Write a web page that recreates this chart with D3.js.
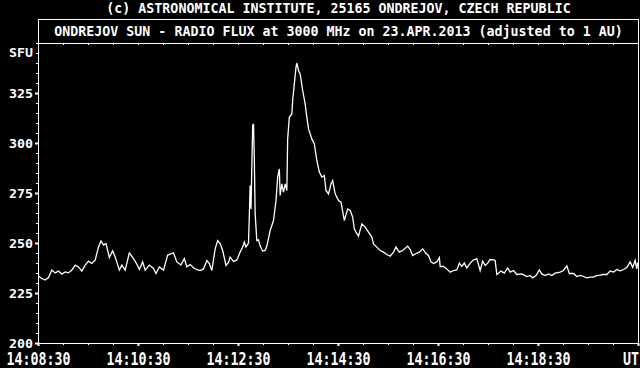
<!DOCTYPE html>
<html>
<head>
<meta charset="utf-8">
<script src="https://cdn.jsdelivr.net/npm/d3@7"></script>
<style>
  html, body { margin: 0; padding: 0; background: #000; }
  svg { display: block; }
  text { font-family: "DejaVu Sans Mono", monospace; font-weight: bold; fill: #fff; }
</style>
</head>
<body>
<svg id="chart" width="640" height="368"></svg>
<script>
// chart texts
const headLine = "(c) ASTRONOMICAL INSTITUTE, 25165 ONDREJOV, CZECH REPUBLIC";
const titleLine = "ONDREJOV SUN - RADIO FLUX at 3000 MHz on 23.APR.2013 (adjusted to 1 AU)";
const yUnit = "SFU";
const xUnit = "UT";

// time axis: 14:08:30 .. 14:20:30 UT
const startTime = "14:08:30";
const endTime = "14:20:30";
const xMinorStep = 30;   // seconds
const xMajorStep = 120;  // seconds

// y ticks (SFU)
const yMajorTicks = [200, 225, 250, 275, 300, 325];
const yMinorStep = 5;
const yMax = 350;

// seconds after 14:08:30
const secs = [
  0, 4, 8, 12, 16, 20, 24, 28, 32, 36, 40, 44, 48, 52, 56, 60, 64, 68, 72, 75,
  78, 81, 85, 89, 92, 97, 100, 104, 109, 114, 118, 121, 125, 128, 133, 138, 141, 145, 150, 155,
  160, 162, 166, 171, 175, 178, 182, 187, 192, 194, 198, 202, 205, 208, 212, 215, 218, 221, 225, 228,
  230, 234, 238, 242, 245, 247, 249, 252, 253, 254, 255, 256, 257, 258, 259, 260, 262, 264, 266, 269,
  272, 274, 278, 282, 285, 287, 289, 290, 292, 294, 296, 298, 299, 301, 304, 305, 307, 309, 310, 312,
  314, 317, 320, 322, 324, 328, 331, 334, 337, 340, 343, 345, 348, 351, 353, 356, 360, 363, 367, 371,
  374, 377, 379, 381, 384, 388, 392, 396, 400, 402, 406, 410, 414, 418, 422, 426, 429, 433, 437, 443,
  446, 449, 453, 457, 461, 465, 468, 471, 474, 478, 481, 482, 486, 490, 494, 498, 502, 505, 508, 511,
  514, 518, 522, 526, 530, 533, 536, 539, 542, 546, 548, 550, 555, 559, 563, 566, 570, 574, 580, 586,
  590, 593, 597, 601, 604, 608, 612, 616, 620, 626, 630, 634, 637, 642, 646, 650, 654, 658, 662, 666,
  670, 674, 678, 682, 686, 690, 694, 698, 702, 706, 710, 713, 716, 718, 719
];

// radio flux, SFU
const flux = [
  233.7, 232.5, 231.7, 233.0, 236.7, 235.3, 236.2, 234.7, 235.8, 235.3, 236.7, 239.2, 238.3, 236.2, 239.2, 241.2, 240.0, 241.7, 248.3, 251.3,
  249.2, 250.0, 243.0, 246.3, 243.3, 236.7, 239.2, 236.7, 245.3, 242.5, 239.7, 237.0, 240.8, 236.7, 239.2, 237.5, 235.0, 238.3, 236.7, 244.2,
  245.0, 245.3, 240.8, 239.2, 242.5, 238.3, 239.5, 237.5, 236.7, 236.5, 237.3, 241.5, 240.0, 236.5, 247.3, 251.5, 250.0, 246.5, 239.0, 240.5,
  243.2, 241.0, 241.8, 245.7, 248.2, 250.7, 248.2, 250.2, 264.0, 279.0, 267.3, 288.2, 309.0, 309.8, 291.5, 264.8, 251.5, 251.8, 248.7, 246.2,
  246.5, 248.7, 256.5, 261.5, 271.5, 283.2, 287.3, 274.0, 279.8, 275.7, 279.8, 276.5, 302.3, 313.2, 314.8, 321.5, 329.8, 338.2, 340.2, 336.5,
  334.8, 326.5, 319.8, 313.2, 307.3, 302.3, 299.8, 291.5, 285.7, 283.2, 284.0, 276.5, 274.8, 279.8, 281.5, 274.8, 271.5, 270.7, 261.5, 267.3,
  266.5, 263.2, 257.3, 255.7, 253.7, 259.8, 258.2, 255.7, 253.2, 249.8, 248.2, 246.5, 245.7, 244.5, 243.7, 245.7, 248.2, 245.7, 246.5, 248.7,
  247.0, 244.0, 245.0, 245.7, 247.3, 245.0, 244.0, 240.8, 240.0, 240.8, 243.0, 238.5, 238.5, 237.3, 235.7, 236.5, 236.8, 240.2, 238.5, 240.2,
  237.8, 240.2, 241.8, 242.3, 236.5, 241.2, 239.0, 240.2, 242.0, 241.8, 241.5, 234.5, 236.2, 235.2, 237.8, 235.7, 236.5, 234.5, 234.8, 233.5,
  234.0, 232.8, 234.0, 236.8, 234.8, 234.0, 234.8, 234.0, 235.2, 235.7, 236.5, 238.8, 235.0, 235.0, 233.5, 234.0, 233.5, 232.8, 233.2, 233.2,
  234.0, 234.2, 234.5, 234.5, 236.2, 235.7, 237.0, 236.3, 237.0, 238.0, 240.8, 238.0, 241.5, 237.3, 240.5
];

const svg = d3.select("#chart");

const parseT = d3.utcParse("%H:%M:%S");
const fmtT = d3.utcFormat("%H:%M:%S");
const t0 = parseT(startTime);
const t1 = parseT(endTime);
const span = (t1 - t0) / 1000;

const data = secs.map((s, i) => ({ t: d3.utcSecond.offset(t0, s), v: flux[i] }));

let plotL = 38, plotR = 638, plotT = 43, plotB = 343;

const x = d3.scaleUtc().domain([t0, t1]).range([plotL, plotR]);
const y = d3.scaleLinear().domain([yMajorTicks[0], yMax]).range([plotB, plotT]);

// header texts
svg.append("text")
  .attr("x", 338.5).attr("y", 13)
  .attr("text-anchor", "middle")
  .style("font-size", "13.3px")
  .text(headLine);

svg.append("rect")
  .attr("x", plotL + 0.5).attr("y", 19.5)
  .attr("width", plotR - plotL).attr("height", plotT - 19)
  .attr("fill", "none").attr("stroke", "#fff").attr("stroke-width", 1);

svg.append("text")
  .attr("x", 338.5).attr("y", 36)
  .attr("text-anchor", "middle")
  .style("font-size", "13.3px")
  .text(titleLine);

// y axis: minor then major ticks
const yMinor = d3.range(yMajorTicks[0], yMax + 1, yMinorStep);

svg.append("g")
  .attr("transform", `translate(${plotL},0)`)
  .call(d3.axisLeft(y).tickValues(yMinor).tickSize(2).tickFormat(""))
  .call(g => g.select(".domain").remove())
  .call(g => g.selectAll("line").attr("stroke", "#fff"));

const yAx = svg.append("g")
  .attr("transform", `translate(${plotL},0)`)
  .call(d3.axisLeft(y).tickValues(yMajorTicks).tickSize(3).tickPadding(2).tickFormat(d3.format("d")))
  .call(g => g.select(".domain").remove());

yAx.attr("font-family", null).attr("font-size", null);
yAx.selectAll("line").attr("stroke", "#fff").attr("stroke-width", 2);
yAx.selectAll(".tick text")
  .attr("fill", "#fff")
  .style("font-size", "13.3px")
  .attr("y", 0)
  .attr("dy", "0.38em")
  .attr("transform", "scale(1,0.88)");

svg.append("text")
  .attr("x", 33).attr("y", 0)
  .attr("text-anchor", "end")
  .style("font-size", "13.3px")
  .attr("transform", "translate(0,57) scale(1,0.88)")
  .text(yUnit);

// x axis ticks: every 30 s, labels every 2 min
const xMinor = d3.range(0, span + 1, xMinorStep).map(s => d3.utcSecond.offset(t0, s));
const xMajorTicks = d3.range(0, span + 1, xMajorStep).map(s => d3.utcSecond.offset(t0, s));

svg.append("g")
  .attr("transform", `translate(0,${plotB})`)
  .call(d3.axisBottom(x).tickValues(xMinor).tickSize(2).tickFormat(""))
  .call(g => g.select(".domain").remove())
  .call(g => g.selectAll("line").attr("stroke", "#fff"));

svg.append("g")
  .attr("transform", `translate(0,${plotT})`)
  .call(d3.axisBottom(x).tickValues(xMinor).tickSize(2).tickFormat(""))
  .call(g => g.select(".domain").remove())
  .call(g => g.selectAll("line").attr("stroke", "#fff"));

const xAx = svg.append("g")
  .attr("transform", `translate(0,${plotB})`)
  .call(d3.axisBottom(x).tickValues(xMajorTicks).tickSize(3).tickFormat(fmtT))
  .call(g => g.select(".domain").remove());

xAx.attr("font-family", null).attr("font-size", null);
xAx.selectAll("line").attr("stroke", "#fff").attr("stroke-width", 2);
xAx.selectAll(".tick text")
  .attr("fill", "#fff")
  .style("font-size", "13.3px")
  .attr("y", 0).attr("dy", 0)
  .attr("transform", "translate(0,21.5) scale(1,1.28)")
  .text((d, i, n) => i === n.length - 1 ? "" : fmtT(d));

svg.append("text")
  .attr("x", plotR + 1).attr("y", 0)
  .attr("text-anchor", "end")
  .style("font-size", "13.3px")
  .attr("transform", `translate(0,${plotB + 21.5}) scale(1,1.28)`)
  .text(xUnit);

// frame
svg.append("rect")
  .attr("x", plotL + 0.5).attr("y", plotT + 0.5)
  .attr("width", plotR - plotL).attr("height", plotB - plotT)
  .attr("fill", "none").attr("stroke", "#fff").attr("stroke-width", 1);

// flux line
const line = d3.line().x(d => x(d.t) + 0.5).y(d => y(d.v) + 0.5);

svg.append("path")
  .datum(data)
  .attr("d", line)
  .attr("fill", "none")
  .attr("stroke", "#fff")
  .attr("stroke-width", 1.3)
  .attr("stroke-linejoin", "miter");
</script>
</body>
</html>
